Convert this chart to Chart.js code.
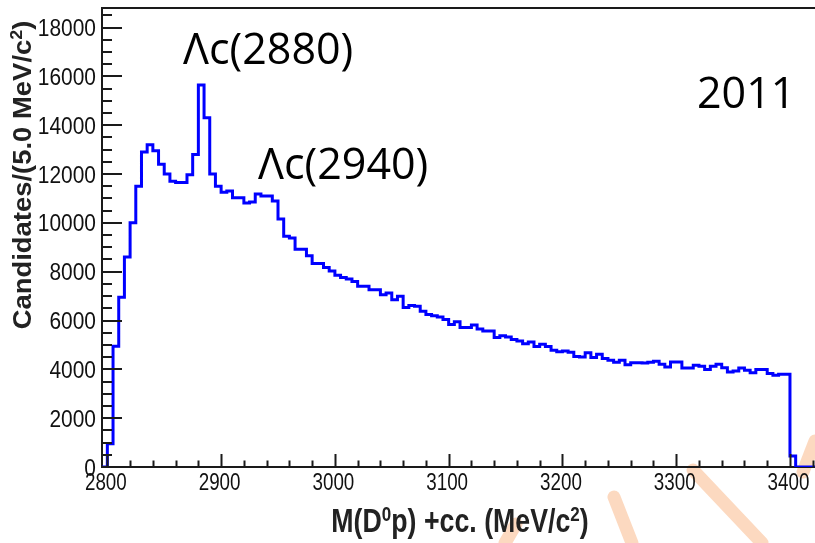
<!DOCTYPE html>
<html>
<head>
<meta charset="utf-8">
<script src="https://cdn.jsdelivr.net/npm/chart.js@4.4.1/dist/chart.umd.min.js"></script>
<style>
  html, body { margin: 0; padding: 0; background: #fff; overflow: hidden; }
  #wrap { width: 815px; height: 543px; }
</style>
</head>
<body>
<div id="wrap"><canvas id="massChart" width="815" height="543"></canvas></div>
<script>
// M(D0p) spectrum, 5 MeV bins, first bin starts at 2795 MeV
const binStart = 2795;
const binWidth = 5;

const counts2795 = [0, 950, 4950, 6950, 8600, 10000, 11500, 12900, 13200, 12950, 12400,
  12000, 11700, 11650, 11650, 11970, 12800, 15650, 14300, 12000, 11500];
const counts2900 = [11250, 11300, 11030, 11030, 10810, 10850, 11180, 11100, 11100, 10900,
  10160, 9450, 9380, 8920, 8920, 8650, 8330, 8330, 8170, 8030];
const counts3000 = [7850, 7760, 7700, 7600, 7400, 7400, 7260, 7260, 7060, 7125,
  6855, 6990, 6530, 6610, 6580, 6380, 6250, 6200, 6140, 6040];
const counts3100 = [5840, 5950, 5710, 5710, 5815, 5650, 5570, 5570, 5300, 5380,
  5320, 5220, 5160, 5050, 5120, 4940, 5025, 4940, 4780, 4720];
const counts3200 = [4750, 4700, 4530, 4510, 4680, 4480, 4615, 4440, 4370, 4290,
  4370, 4190, 4275, 4275, 4260, 4290, 4330, 4205, 4095, 4300];
const counts3300 = [4300, 4055, 4055, 4165, 4125, 3990, 4125, 4205, 4070, 3890,
  3930, 4055, 3960, 3865, 3990, 3990, 3825, 3755, 3795, 3795];
const counts3400 = [450, 0, 0, 0, 0, 0];

const xTickLabels = [2800, 2900, 3000, 3100, 3200, 3300, 3400];
const yTickLabels = [0, 2000, 4000, 6000, 8000, 10000, 12000, 14000, 16000, 18000];
const xMin = 2795.3, xMax = 3422;
const yMin = 0, yMax = 18800;

const counts = [].concat(counts2795, counts2900, counts3000, counts3100, counts3200, counts3300, counts3400);

// step histogram: one point per lower bin edge, plus the closing upper edge
const points = counts.map((c, i) => ({ x: binStart + i * binWidth, y: c }));
points.push({ x: binStart + counts.length * binWidth, y: counts[counts.length - 1] });

const sansFont = "'Liberation Sans', Arial, Helvetica, sans-serif";

// text squeezed (or stretched) along its own direction
function scaledText(ctx, text, x, y, sx, align) {
  ctx.save();
  ctx.translate(x, y);
  ctx.scale(sx, 1);
  ctx.textAlign = align;
  ctx.fillText(text, 0, 0);
  ctx.restore();
}

function drawRich(ctx, parts, x, y, sx, font, supFont) {
  const widths = parts.map(p => { ctx.font = p.sup ? supFont : font; return ctx.measureText(p.t).width; });
  const total = widths.reduce((a, b) => a + b, 0);
  ctx.save();
  ctx.translate(x, y);
  ctx.scale(sx, 1);
  ctx.textAlign = 'left';
  let cx = -total / 2;
  parts.forEach((p, i) => {
    ctx.font = p.sup ? supFont : font;
    ctx.fillText(p.t, cx, p.sup ? -p.sup : 0);
    cx += widths[i];
  });
  ctx.restore();
}

// pale orange strokes of the slide watermark, bottom right
const watermarkStrokes = [
  [[505, 543], [516, 524]],
  [[614, 497], [632, 543]],
  [[693, 470], [762, 543]],
  [[803, 472], [815, 441]]
];

const framePlugin = {
  id: 'frame',
  beforeDraw(chart) {
    const { ctx } = chart;
    ctx.save();
    ctx.strokeStyle = 'rgba(248, 170, 115, 0.45)';
    ctx.lineWidth = 13;
    ctx.lineCap = 'round';
    watermarkStrokes.forEach(([p, q]) => {
      ctx.beginPath();
      ctx.moveTo(p[0], p[1]);
      ctx.lineTo(q[0], q[1]);
      ctx.stroke();
    });
    ctx.restore();
  },
  afterDatasetsDraw(chart) {
    const { ctx, chartArea: a, scales: { x, y } } = chart;
    ctx.save();
    ctx.strokeStyle = '#1a1a1a';
    ctx.lineWidth = 2;
    ctx.beginPath();
    // ticks along the mass axis, pointing into the frame
    for (let v = 2800; v <= 3420; v += 20) {
      const px = Math.round(x.getPixelForValue(v)) + 0.5;
      const len = v % 100 === 0 ? 13 : 6.5;
      ctx.moveTo(px, a.bottom);
      ctx.lineTo(px, a.bottom - len);
    }
    // ticks along the candidates axis
    for (let v = 0; v <= 18500; v += 500) {
      const py = Math.round(y.getPixelForValue(v));
      const len = v % 2000 === 0 ? 20 : 10;
      ctx.moveTo(a.left, py);
      ctx.lineTo(a.left + len, py);
    }
    ctx.moveTo(a.left, a.top);
    ctx.lineTo(a.right + 2, a.top);
    ctx.stroke();
    ctx.restore();
  },
  afterDraw(chart) {
    const { ctx, chartArea: a, scales: { x, y } } = chart;
    ctx.save();
    ctx.textBaseline = 'alphabetic';

    // axis numbers
    ctx.fillStyle = '#111';
    ctx.font = '23.5px ' + sansFont;
    xTickLabels.forEach(v => scaledText(ctx, String(v), x.getPixelForValue(v) - 1.5, 490, 0.8, 'center'));
    yTickLabels.forEach(v => scaledText(ctx, String(v), a.left - 6, y.getPixelForValue(v) + 8.5, 0.89, 'right'));

    // axis titles
    ctx.fillStyle = '#222';
    const xt = [{ t: 'M(D' }, { t: '0', sup: 11 }, { t: 'p) +cc. (MeV/c' }, { t: '2', sup: 11 }, { t: ')' }];
    drawRich(ctx, xt, 460, 532, 0.81, 'bold 33px ' + sansFont, 'bold 21px ' + sansFont);

    ctx.save();
    ctx.translate(31, 175);
    ctx.rotate(-Math.PI / 2);
    const yt = [{ t: 'Candidates/(5.0 MeV/c' }, { t: '2', sup: 9 }, { t: ')' }];
    drawRich(ctx, yt, 0, 0, 1.055, 'bold 26px ' + sansFont, 'bold 17px ' + sansFont);
    ctx.restore();

    // resonance labels and year
    ctx.fillStyle = '#000';
    ctx.textAlign = 'left';
    ctx.font = "43px 'Open Sans', sans-serif";
    ctx.fillText('\u039Bc(2880)', 183, 64);
    ctx.fillText('\u039Bc(2940)', 258, 179);
    ctx.fillText('2011', 697, 108);
    ctx.restore();
  }
};

new Chart(document.getElementById('massChart'), {
  type: 'line',
  data: {
    datasets: [{
      data: points,
      stepped: 'before',
      borderColor: '#0000ff',
      borderWidth: 3,
      pointRadius: 0,
      fill: false
    }]
  },
  options: {
    responsive: false,
    animation: false,
    devicePixelRatio: 1,
    layout: { padding: { top: 8, left: 0, right: 0, bottom: 0 } },
    plugins: { legend: { display: false }, tooltip: { enabled: false } },
    scales: {
      x: {
        type: 'linear',
        min: xMin,
        max: xMax,
        afterFit: s => { s.height = 76; },
        grid: { display: false, drawTicks: false },
        border: { display: true, color: '#1a1a1a', width: 2 },
        ticks: { display: false }
      },
      y: {
        type: 'linear',
        min: yMin,
        max: yMax,
        afterFit: s => { s.width = 102; },
        grid: { display: false, drawTicks: false },
        border: { display: true, color: '#1a1a1a', width: 2 },
        ticks: { display: false }
      }
    }
  },
  plugins: [framePlugin]
});
</script>
</body>
</html>
